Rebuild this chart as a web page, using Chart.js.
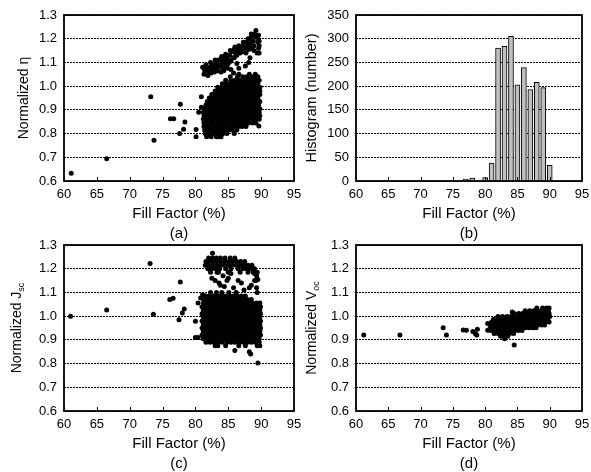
<!DOCTYPE html>
<html>
<head>
<meta charset="utf-8">
<script src="https://cdn.jsdelivr.net/npm/chart.js@4.4.0/dist/chart.umd.min.js"></script>
<style>
  html, body { margin: 0; padding: 0; background: #fff; overflow: hidden; }
  body { width: 591px; height: 472px; position: relative; }
  canvas { position: absolute; }
</style>
</head>
<body>
<canvas id="effChart" width="310" height="250" style="left:0;top:0"></canvas>
<canvas id="histChart" width="296" height="250" style="left:295px;top:0"></canvas>
<canvas id="jscChart" width="310" height="250" style="left:0;top:230px"></canvas>
<canvas id="vocChart" width="296" height="250" style="left:295px;top:230px"></canvas>
<script>
// axis ticks
const ffTicks = [60, 65, 70, 75, 80, 85, 90, 95];
const normTicks = [0.6, 0.7, 0.8, 0.9, 1.0, 1.1, 1.2, 1.3];
const histTicks = [0, 50, 100, 150, 200, 250, 300, 350];

// histogram of fill factor
const histFF = [77, 78, 80, 81, 82, 83, 84, 85, 86, 87, 88, 89, 90];
const histCount = [4, 6, 7, 38, 280, 284, 305, 203, 239, 193, 208, 197, 33];

// (a) normalized efficiency: [FF, eta]
const etaOutliers = [
  [61.1,0.633],[66.5,0.694],[73.2,0.955],[73.7,0.772],[76.2,0.863],[76.7,0.863],
  [77.7,0.924],[77.6,0.80],[78.2,0.818],[78.4,0.849],[80.1,0.817],[80.1,0.787],
  [80.5,0.89],[80.9,0.911],[80.9,0.955],[84.8,0.80],[85.9,0.80],[89.65,0.832]
];
const etaBand = [
  [81.1,1.08],[81.4,1.065],[81.7,1.075],[82.0,1.06],[82.2,1.08],[82.5,1.07],[82.6,1.09],
  [82.9,1.075],[83.1,1.095],[83.3,1.08],[83.5,1.11],[83.7,1.09],[83.9,1.115],[84.1,1.10],
  [84.3,1.12],[84.5,1.105],[84.8,1.125],[85.0,1.11],[85.2,1.13],[85.5,1.145],[85.7,1.12],
  [85.9,1.155],[86.1,1.14],[86.3,1.16],[86.6,1.15],[86.8,1.165],[87.0,1.15],[87.3,1.17],
  [87.6,1.16],[87.8,1.185],[88.0,1.17],[88.2,1.20],[88.4,1.18],[88.6,1.21],[88.8,1.19],
  [89.0,1.22],[89.2,1.235],[89.4,1.205],[89.6,1.215],[89.5,1.185],[89.6,1.16],[88.9,1.15],
  [89.7,1.17],[89.7,1.19],[89.7,1.14],[89.4,1.14],
  [81.3,1.05],[81.9,1.045],[82.4,1.055],[82.9,1.06],[83.4,1.065],[83.6,1.085],[84.0,1.08],
  [84.6,1.09],[85.0,1.095],[85.4,1.105],[85.9,1.12],[86.3,1.13],[86.8,1.14],[87.2,1.145],
  [87.7,1.14],[88.1,1.155],[88.5,1.16],[88.9,1.17],[81.6,1.09],[82.3,1.10],[83.0,1.11],
  [84.0,1.125],[84.6,1.135],[85.3,1.15],[86.0,1.165],[86.6,1.17],[87.3,1.185],[88.0,1.20],
  [88.5,1.22],[89.3,1.21],
  [84.5,1.08],[84.9,1.075],[85.4,1.07],[86.3,1.095],[86.6,1.075],[87.6,1.085],[88.1,1.10],
  [88.3,1.12],[85.8,1.055],[83.9,1.06],[84.3,1.065]
];
const etaCloud = [
  [0.787, [81.7, 82.4, 83.2, 83.5, 83.9]],
  [0.80,  [81.5, 82.0, 82.6, 83.1, 83.7, 84.2]],
  [0.815, [81.4, 81.9, 82.4, 83.0, 83.5, 84.0, 84.5, 85.1, 85.6, 86.3]],
  [0.83,  [81.3, 81.8, 82.3, 82.9, 83.4, 83.9, 84.5, 85.0, 85.5, 86.0, 86.6, 87.1, 87.7]],
  [0.845, [81.3, 81.8, 82.3, 82.8, 83.4, 83.9, 84.4, 85.0, 85.5, 86.0, 86.5, 87.1, 87.6, 88.1, 88.7, 89.2]],
  [0.86,  [81.2, 81.7, 82.3, 82.8, 83.3, 83.9, 84.4, 84.9, 85.5, 86.0, 86.5, 87.1, 87.6, 88.1, 88.7, 89.2, 89.7]],
  [0.875, [81.3, 81.8, 82.4, 82.9, 83.4, 84.0, 84.5, 85.0, 85.6, 86.1, 86.6, 87.2, 87.7, 88.2, 88.8, 89.3, 89.8]],
  [0.89,  [81.2, 81.7, 82.3, 82.8, 83.3, 83.9, 84.4, 84.9, 85.5, 86.0, 86.5, 87.1, 87.6, 88.1, 88.7, 89.2, 89.7]],
  [0.905, [81.4, 81.9, 82.4, 82.9, 83.5, 84.0, 84.5, 85.1, 85.6, 86.1, 86.7, 87.2, 87.7, 88.3, 88.8, 89.3, 89.8]],
  [0.92,  [81.6, 82.1, 82.6, 83.2, 83.7, 84.2, 84.8, 85.3, 85.8, 86.4, 86.9, 87.4, 88.0, 88.5, 89.0, 89.6]],
  [0.935, [81.8, 82.3, 82.9, 83.4, 83.9, 84.5, 85.0, 85.5, 86.1, 86.6, 87.1, 87.7, 88.2, 88.7, 89.3, 89.8]],
  [0.95,  [82.1, 82.6, 83.1, 83.7, 84.2, 84.7, 85.3, 85.8, 86.3, 86.9, 87.4, 87.9, 88.5, 89.0, 89.5]],
  [0.965, [82.5, 83.0, 83.5, 84.0, 84.6, 85.1, 85.6, 86.2, 86.7, 87.2, 87.8, 88.3, 88.8, 89.4, 89.8]],
  [0.98,  [83.0, 83.5, 84.0, 84.5, 85.1, 85.6, 86.1, 86.7, 87.2, 87.7, 88.3, 88.8, 89.3, 89.8]],
  [0.995, [83.4, 84.0, 84.5, 85.0, 85.6, 86.1, 86.6, 87.2, 87.7, 88.2, 88.8, 89.3, 89.8]],
  [1.01,  [84.1, 84.7, 85.2, 85.7, 86.3, 86.8, 87.3, 87.9, 88.4, 88.9, 89.5]],
  [1.025, [84.6, 85.4, 86.0, 86.5, 87.0, 87.6, 88.1, 88.6, 89.2, 89.7]],
  [1.04,  [85.3, 86.4, 87.2, 87.8, 88.4, 88.9, 89.5]],
  [1.05,  [86.6, 88.2, 89.1]]
];

// (c) normalized Jsc: [FF, Jsc]
const jscOutliers = [
  [61.0,1.0],[66.5,1.026],[73.1,1.222],[73.6,1.008],[76.1,1.07],[76.6,1.075],[77.7,1.144],
  [77.5,0.985],[78.0,1.013],[78.3,1.03],[80.0,0.978],[80.0,0.91],[80.4,0.91],[80.4,1.055],
  [80.8,1.077],[81.1,1.09],[89.5,0.802],[88.4,0.84],[88.2,0.85],[86.0,0.855]
];
const jscBand = [
  [82.6,1.265],[89.3,1.17],[89.5,1.155],[89.2,1.15],
  [82.5,1.16],[83.0,1.15],[83.6,1.14],[84.2,1.17],[85.0,1.16],[85.4,1.18],[85.8,1.12],
  [86.5,1.15],[87.0,1.14],[87.4,1.11],[88.2,1.12],[88.5,1.13],[89.0,1.15],[89.3,1.12],
  [83.3,1.185],[83.8,1.13],[84.4,1.125],[84.8,1.15],[89.0,1.18],[89.4,1.10]
];
const jscCloud = [
  [1.245, [82.0, 82.6, 83.2, 83.8, 84.5, 85.3, 86.0]],
  [1.23,  [81.6, 82.1, 82.7, 83.3, 83.9, 84.5, 85.1, 85.7, 86.3, 86.9, 87.5]],
  [1.215, [81.5, 82.0, 82.6, 83.2, 83.8, 84.4, 85.0, 85.6, 86.2, 86.8, 87.4, 88.0, 88.6]],
  [1.20,  [81.9, 82.5, 83.1, 83.7, 84.6, 85.4, 86.5, 87.2, 87.8, 88.4, 89.0]],
  [1.185, [82.3, 83.5, 85.0, 86.8, 88.0, 88.8, 89.4]],
  [1.10,  [82.3, 83.2, 84.0, 85.1, 86.2]],
  [1.085, [81.6, 82.2, 82.8, 83.4, 84.0, 84.6, 85.2, 85.8, 86.4, 87.0, 87.6]],
  [1.07,  [81.3, 81.9, 82.4, 83.0, 83.5, 84.1, 84.6, 85.2, 85.7, 86.3, 86.8, 87.4, 87.9, 88.5]],
  [1.055, [81.2, 81.8, 82.3, 82.9, 83.4, 83.9, 84.5, 85.0, 85.5, 86.1, 86.6, 87.1, 87.7, 88.2, 88.7, 89.3, 89.8]],
  [1.04,  [81.0, 81.5, 82.1, 82.6, 83.1, 83.7, 84.2, 84.7, 85.3, 85.8, 86.3, 86.9, 87.4, 87.9, 88.5, 89.0, 89.5, 89.9]],
  [1.025, [81.2, 81.8, 82.3, 82.9, 83.4, 83.9, 84.5, 85.0, 85.5, 86.1, 86.6, 87.1, 87.7, 88.2, 88.7, 89.3, 89.8]],
  [1.01,  [81.0, 81.5, 82.1, 82.6, 83.1, 83.7, 84.2, 84.7, 85.3, 85.8, 86.3, 86.9, 87.4, 87.9, 88.5, 89.0, 89.5, 89.9]],
  [0.995, [81.2, 81.8, 82.3, 82.9, 83.4, 83.9, 84.5, 85.0, 85.5, 86.1, 86.6, 87.1, 87.7, 88.2, 88.7, 89.3, 89.8]],
  [0.98,  [81.0, 81.5, 82.1, 82.6, 83.1, 83.7, 84.2, 84.7, 85.3, 85.8, 86.3, 86.9, 87.4, 87.9, 88.5, 89.0, 89.5, 89.9]],
  [0.965, [81.2, 81.8, 82.3, 82.9, 83.4, 83.9, 84.5, 85.0, 85.5, 86.1, 86.6, 87.1, 87.7, 88.2, 88.7, 89.3, 89.8]],
  [0.95,  [81.0, 81.5, 82.1, 82.6, 83.1, 83.7, 84.2, 84.7, 85.3, 85.8, 86.3, 86.9, 87.4, 87.9, 88.5, 89.0, 89.5, 89.9]],
  [0.935, [81.2, 81.8, 82.3, 82.9, 83.4, 83.9, 84.5, 85.0, 85.5, 86.1, 86.6, 87.1, 87.7, 88.2, 88.7, 89.3, 89.8]],
  [0.92,  [81.0, 81.5, 82.1, 82.6, 83.1, 83.7, 84.2, 84.7, 85.3, 85.8, 86.3, 86.9, 87.4, 87.9, 88.5, 89.0, 89.5, 89.9]],
  [0.905, [81.2, 81.7, 82.2, 82.8, 83.3, 83.8, 84.4, 84.9, 85.4, 86.0, 86.5, 87.0, 87.6, 88.1, 88.6, 89.2, 89.7]],
  [0.89,  [81.6, 82.2, 82.8, 83.5, 84.1, 84.8, 85.4, 86.0, 86.7, 87.3, 87.9, 88.5, 89.1, 89.7]],
  [0.875, [83.0, 83.4, 84.6, 86.6, 87.6, 89.4, 89.8]]
];

// (d) normalized Voc: [FF, Voc]
const vocOutliers = [
  [61.2,0.921],[66.8,0.92],[73.5,0.951],[74.0,0.921],[76.6,0.942],[77.1,0.94],[78.1,0.935],
  [78.5,0.926],[78.7,0.92],[78.8,0.945],[80.4,0.969],[80.4,0.94],[84.5,0.878],[84.2,1.017],
  [83.0,0.905],[87.7,0.952]
];
const vocCloud = [
  [0.915, [82.4, 83.0, 83.5]],
  [0.927, [81.4, 82.0, 82.6, 83.2, 83.8, 84.4]],
  [0.939, [80.9, 81.5, 82.1, 82.7, 83.3, 83.9, 84.5, 85.1, 85.7]],
  [0.951, [80.8, 81.4, 82.0, 82.6, 83.2, 83.8, 84.4, 85.0, 85.6, 86.2, 86.8, 87.4, 87.9]],
  [0.963, [80.9, 81.5, 82.1, 82.7, 83.3, 83.9, 84.5, 85.1, 85.7, 86.3, 86.9, 87.5, 88.1, 88.7, 89.2]],
  [0.975, [81.0, 81.6, 82.2, 82.8, 83.4, 84.0, 84.6, 85.2, 85.8, 86.4, 87.0, 87.6, 88.2, 88.8, 89.4, 89.9]],
  [0.987, [81.3, 81.9, 82.5, 83.1, 83.7, 84.3, 84.9, 85.5, 86.1, 86.7, 87.3, 87.9, 88.5, 89.1, 89.7]],
  [0.999, [82.0, 82.7, 83.4, 84.0, 84.6, 85.2, 85.8, 86.4, 87.0, 87.6, 88.2, 88.8, 89.4, 90.0]],
  [1.011, [84.5, 85.2, 85.8, 86.4, 87.0, 87.6, 88.2, 88.8, 89.4, 89.9]],
  [1.023, [86.2, 86.9, 87.5, 88.1, 88.7, 89.3, 89.8]],
  [1.034, [88.0, 88.9, 89.5, 89.9]]
];

const FONT = '"Liberation Sans", Arial, sans-serif';
Chart.defaults.font.family = FONT;
Chart.defaults.color = '#000';
Chart.defaults.animation = false;

function rowsToPoints(rows) {
  const pts = [];
  rows.forEach(([v, xs]) => xs.forEach(x => pts.push({ x: x, y: v })));
  return pts;
}
function pairsToPoints(pairs) {
  return pairs.map(([x, y]) => ({ x: x, y: y }));
}

// frame, inward x ticks and rotated y title with optional subscript
const framePlugin = {
  id: 'frame',
  afterDraw(chart, args, opts) {
    const { ctx, chartArea: a } = chart;
    const xs = chart.scales.x;
    ctx.save();
    ctx.strokeStyle = '#000';
    ctx.lineWidth = 1;
    ctx.beginPath();
    ffTicks.forEach(t => {
      const px = Math.round(xs.getPixelForValue(t)) + 0.5;
      ctx.moveTo(px, a.bottom);
      ctx.lineTo(px, a.bottom - 4);
    });
    ctx.stroke();
    ctx.lineWidth = 1.8;
    ctx.strokeRect(a.left, a.top, a.right - a.left, a.bottom - a.top);

    ctx.translate(opts.x, (a.top + a.bottom) / 2);
    ctx.rotate(-Math.PI / 2);
    ctx.fillStyle = '#000';
    ctx.textBaseline = 'alphabetic';
    ctx.textAlign = 'left';
    ctx.font = opts.size + 'px ' + FONT;
    const w1 = ctx.measureText(opts.text).width;
    ctx.font = '9px ' + FONT;
    const w2 = opts.sub ? ctx.measureText(opts.sub).width : 0;
    const start = -(w1 + w2) / 2;
    ctx.font = opts.size + 'px ' + FONT;
    ctx.fillText(opts.text, start, 0);
    if (opts.sub) {
      ctx.font = '9px ' + FONT;
      ctx.fillText(opts.sub, start + w1, 3);
    }
    ctx.restore();
  }
};

function xScale(label) {
  return {
    type: 'linear', min: 60, max: 95, offset: false,
    afterBuildTicks: s => { s.ticks = ffTicks.map(v => ({ value: v })); },
    afterFit: s => { s.height = 63; s.paddingLeft = 0; s.paddingRight = 0; },
    grid: { display: false, drawTicks: false, offset: false },
    border: { display: false },
    ticks: { color: '#000', padding: 6, font: { size: 13 }, maxRotation: 0, autoSkip: false },
    title: { display: true, text: ['Fill Factor (%)', label], color: '#000',
             font: { size: 15, lineHeight: 1.33 }, padding: 0 }
  };
}
function yScale(min, max, ticks, width, fmt) {
  return {
    min: min, max: max,
    afterBuildTicks: s => { s.ticks = ticks.map(v => ({ value: v })); },
    afterFit: s => { s.width = width; s.paddingTop = 0; s.paddingBottom = 0; },
    grid: { color: '#000', lineWidth: 1, drawTicks: false },
    border: { display: false, dash: [2, 1] },
    ticks: { color: '#000', padding: 7, font: { size: 13 }, callback: fmt }
  };
}

function scatterChart(id, points, label, yTitle, ySub, titleX, yWidth, padRight) {
  return new Chart(document.getElementById(id), {
    type: 'scatter',
    data: { datasets: [{ data: points, backgroundColor: '#000', borderWidth: 0, pointRadius: 2.5 }] },
    options: {
      responsive: false,
      layout: { padding: { top: 15, right: padRight, bottom: 6, left: 0 } },
      plugins: { legend: { display: false }, tooltip: { enabled: false },
                 frame: { text: yTitle, sub: ySub, x: titleX, size: 14 } },
      scales: {
        x: xScale(label),
        y: yScale(0.6, 1.3, normTicks, yWidth, v => v.toFixed(1))
      }
    },
    plugins: [framePlugin]
  });
}

scatterChart('effChart',
  pairsToPoints(etaOutliers).concat(pairsToPoints(etaBand), rowsToPoints(etaCloud)),
  '(a)', 'Normalized \u03b7', '', 28, 64, 16);

scatterChart('jscChart',
  pairsToPoints(jscOutliers).concat(pairsToPoints(jscBand), rowsToPoints(jscCloud)),
  '(c)', 'Normalized J', 'sc', 21, 64, 16);

scatterChart('vocChart',
  pairsToPoints(vocOutliers).concat(rowsToPoints(vocCloud)),
  '(d)', 'Normalized V', 'oc', 21, 61, 9);

new Chart(document.getElementById('histChart'), {
  type: 'bar',
  data: {
    datasets: [{
      data: histFF.map((f, i) => ({ x: f, y: histCount[i] })),
      backgroundColor: '#c0c0c0', borderColor: '#000', borderWidth: 1, barThickness: 5
    }]
  },
  options: {
    responsive: false,
    layout: { padding: { top: 15, right: 9, bottom: 6, left: 0 } },
    plugins: { legend: { display: false }, tooltip: { enabled: false },
               frame: { text: 'Histogram (number)', sub: '', x: 21, size: 14.5 } },
    scales: {
      x: xScale('(b)'),
      y: yScale(0, 350, histTicks, 61, v => String(v))
    }
  },
  plugins: [framePlugin]
});
</script>
</body>
</html>
